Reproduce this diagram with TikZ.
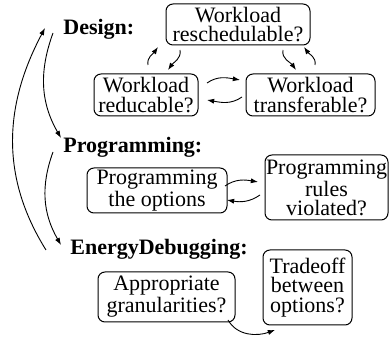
\documentclass[tikz,border=0pt]{standalone}
\usepackage{fontspec}
\setmainfont{Liberation Serif}
\usetikzlibrary{arrows.meta}
\begin{document}
\begin{tikzpicture}[x=0.5pt,y=0.5pt,
  box/.style={draw, rounded corners=3.5pt, align=center, inner sep=0pt, line width=0.5pt,
    font={\fontsize{11}{9.6}\selectfont}},
  lab/.style={font={\fontsize{11}{12}\selectfont\bfseries}, anchor=base west, inner sep=0pt},
  arr/.style={-{Latex[length=3.6pt,width=2.6pt]}, line width=0.45pt}]
\useasboundingbox (0,0) rectangle (391,-341);
% labels
\node[lab] (design) at (63,-35) {Design:};
\node[lab] (prog) at (63,-153) {Programming:};
\node[lab] (energy) at (70,-255) {EnergyDebugging:};
% boxes
\node[box, minimum width=72pt, minimum height=20.5pt] (resched) at (238,-24.5) {Workload\\reschedulable?};
\node[box, minimum width=52pt, minimum height=21pt] (reduc) at (146,-95) {Workload\\reducable?};
\node[box, minimum width=64.5pt, minimum height=21pt] (transf) at (310.5,-95) {Workload\\transferable?};
\node[box, minimum width=70pt, minimum height=22.5pt] (progopt) at (157,-190.5) {Programming\\the options};
\node[box, minimum width=61.5pt, minimum height=32.5pt] (rules) at (326.5,-187.5) {Programming\\rules\\violated?};
\node[box, minimum width=68.5pt, minimum height=25pt] (approp) at (166.5,-297) {Appropriate\\granularities?};
\node[box, minimum width=44.5pt, minimum height=37.5pt] (trade) at (307.5,-287.5) {Tradeoff\\between\\options?};
% connector end points
\coordinate (a1s) at (148,-65);  \coordinate (a1e) at (158,-47);
\coordinate (a2s) at (180,-50);  \coordinate (a2e) at (168,-70);
\coordinate (a3s) at (283,-50);  \coordinate (a3e) at (296,-70);
\coordinate (a4s) at (315,-65);  \coordinate (a4e) at (304,-47);
\coordinate (a5s) at (207,-83);  \coordinate (a5e) at (240,-80);
\coordinate (a6s) at (242,-97);  \coordinate (a6e) at (207,-100);
\coordinate (a7s) at (225,-186); \coordinate (a7e) at (258,-182);
\coordinate (a8s) at (260,-195); \coordinate (a8e) at (227,-200);
\coordinate (a9s) at (228,-320); \coordinate (a9e) at (275,-330);
\coordinate (l1s) at (53,-33);   \coordinate (l1e) at (61,-138);
\coordinate (l2s) at (53,-152);  \coordinate (l2e) at (61,-245);
\coordinate (l3s) at (46,-250);  \coordinate (l3e) at (45,-28);
% connectors
\draw[arr] (a1s) to[out=100,in=-125] (a1e);
\draw[arr] (a2s) to[out=-80,in=55] (a2e);
\draw[arr] (a3s) to[out=-100,in=125] (a3e);
\draw[arr] (a4s) to[out=80,in=-55] (a4e);
\draw[arr] (a5s) to[out=35,in=170] (a5e);
\draw[arr] (a6s) to[out=-145,in=-10] (a6e);
\draw[arr] (a7s) to[out=35,in=170] (a7e);
\draw[arr] (a8s) to[out=-145,in=-10] (a8e);
\draw[arr] (a9s) to[out=-60,in=200] (a9e);
\draw[arr] (l1s) to[out=-110,in=120] (l1e);
\draw[arr] (l2s) to[out=-110,in=120] (l2e);
\draw[arr] (l3s) to[out=122,in=-118] (l3e);
\end{tikzpicture}
\end{document}
